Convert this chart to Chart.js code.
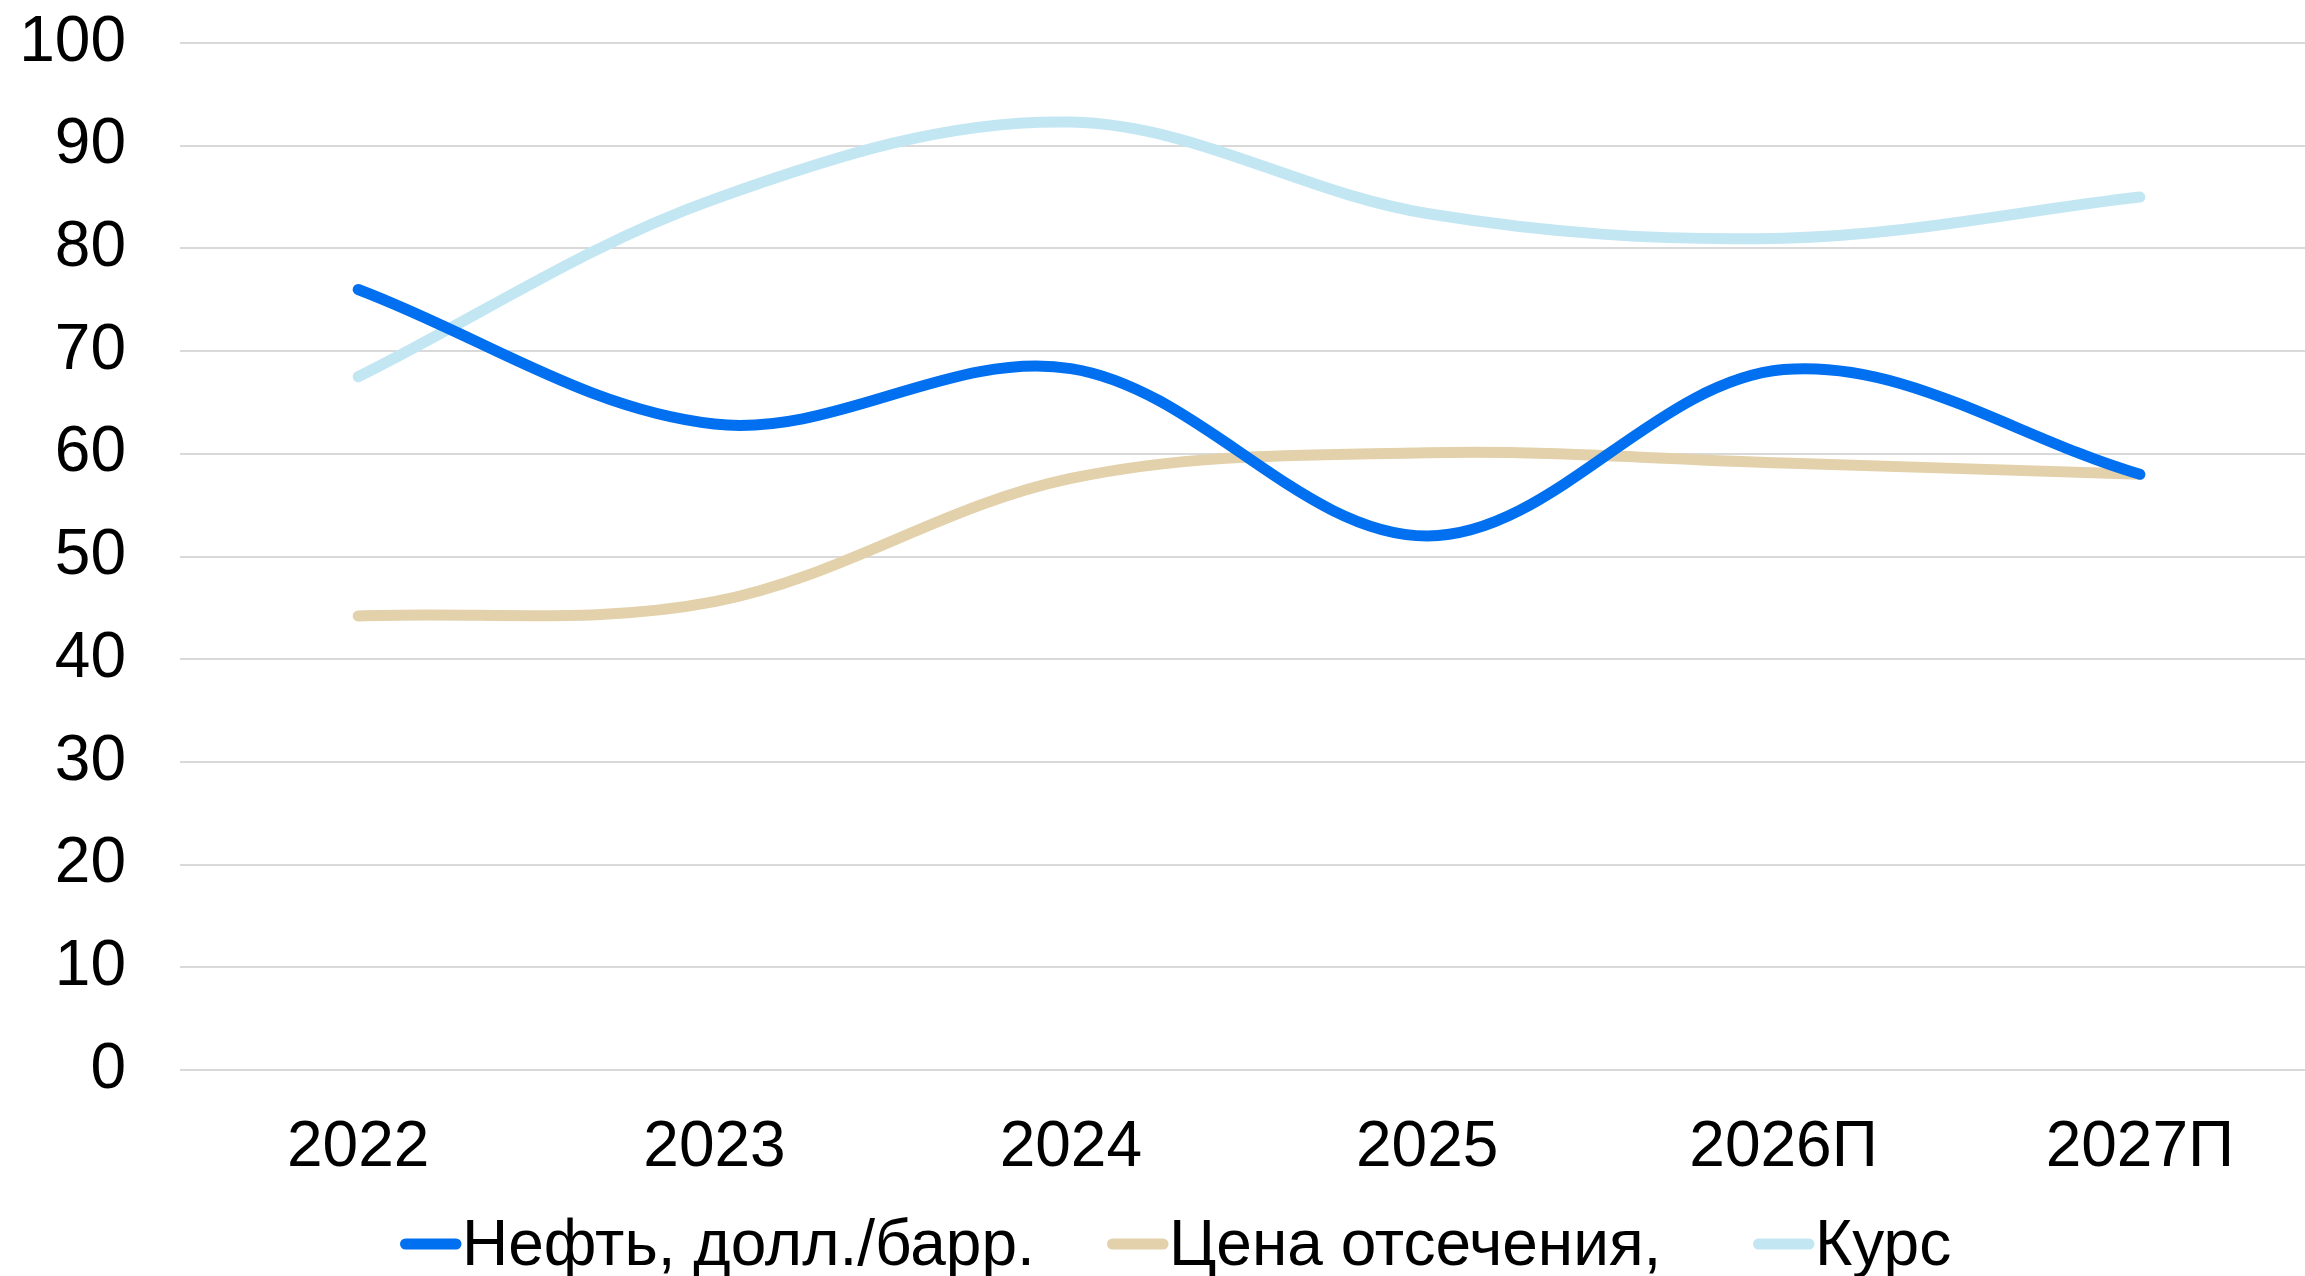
<!DOCTYPE html>
<html>
<head>
<meta charset="utf-8">
<script src="https://cdn.jsdelivr.net/npm/chart.js@4/dist/chart.umd.min.js"></script>
<style>
  html, body { margin: 0; padding: 0; background: #fff; overflow: hidden; }
  #wrap { width: 2320px; height: 1276px; }
</style>
</head>
<body>
<div id="wrap"><canvas id="place__graph1" width="2320" height="1276"></canvas></div>
<script>
// data
const years = ['2022', '2023', '2024', '2025', '2026П', '2027П'];
const oil = [76, 62.9, 68.3, 52, 68.2, 58];
const cutoff = [44.2, 45.6, 57.6, 60.1, 59.1, 58];
const rate = [67.5, 84.8, 92.3, 83.4, 81, 85];
const yTicks = [0, 10, 20, 30, 40, 50, 60, 70, 80, 90, 100];

const fontFam = '"Liberation Sans", Arial, sans-serif';
const legendX = [400, 1107, 1753];

// own legend: short line + text right next to it, like excel
const legendPlugin = {
  id: 'excelLegend',
  afterDraw(chart) {
    const ctx = chart.ctx;
    ctx.save();
    ctx.font = '64px ' + fontFam;
    ctx.textBaseline = 'middle';
    ctx.fillStyle = '#000';
    chart.data.datasets.forEach((ds, i) => {
      const x = legendX[i];
      const y = 1244;
      ctx.strokeStyle = ds.borderColor;
      ctx.lineWidth = 11;
      ctx.lineCap = 'round';
      ctx.beginPath();
      ctx.moveTo(x + 5.5, y);
      ctx.lineTo(x + 56, y);
      ctx.stroke();
      ctx.fillText(ds.label, x + 62, y + 3);
    });
    ctx.restore();
  }
};

function createChart(ctx) {
  const line = (label, data, color) => ({
    label: label,
    data: data,
    borderColor: color,
    backgroundColor: color,
    borderWidth: 11,
    borderCapStyle: 'round',
    borderJoinStyle: 'round',
    pointRadius: 0,
    tension: 0.35,
    fill: false
  });

  return new Chart(ctx, {
    type: 'line',
    data: {
      labels: years,
      datasets: [
        line('Нефть, долл./барр.', oil, '#0070F0'),
        line('Цена отсечения,', cutoff, '#E2D1AA'),
        line('Курс', rate, '#C3E6F3')
      ]
    },
    options: {
      responsive: false,
      animation: false,
      layout: { padding: { top: 43, right: 2, left: 0, bottom: 0 } },
      plugins: { legend: { display: false }, tooltip: { enabled: false } },
      scales: {
        x: {
          offset: true,
          grid: { display: false, drawTicks: false },
          border: { display: false },
          ticks: { color: '#000', font: { family: fontFam, size: 64 }, padding: 40, maxRotation: 0 },
          afterFit(scale) { scale.height = 206; }
        },
        y: {
          min: 0,
          max: 100,
          afterBuildTicks(scale) { scale.ticks = yTicks.map(v => ({ value: v })); },
          grid: { color: '#D9D9D9', lineWidth: 2, drawTicks: false },
          border: { display: false },
          ticks: { color: '#000', font: { family: fontFam, size: 64, lineHeight: 1 }, padding: 54 },
          afterFit(scale) {
            scale.width = 180;
            scale.paddingTop = 0;
            scale.paddingBottom = 0;
          }
        }
      }
    },
    plugins: [legendPlugin]
  });
}

const chart = createChart(document.getElementById('place__graph1').getContext('2d'));
</script>
</body>
</html>
